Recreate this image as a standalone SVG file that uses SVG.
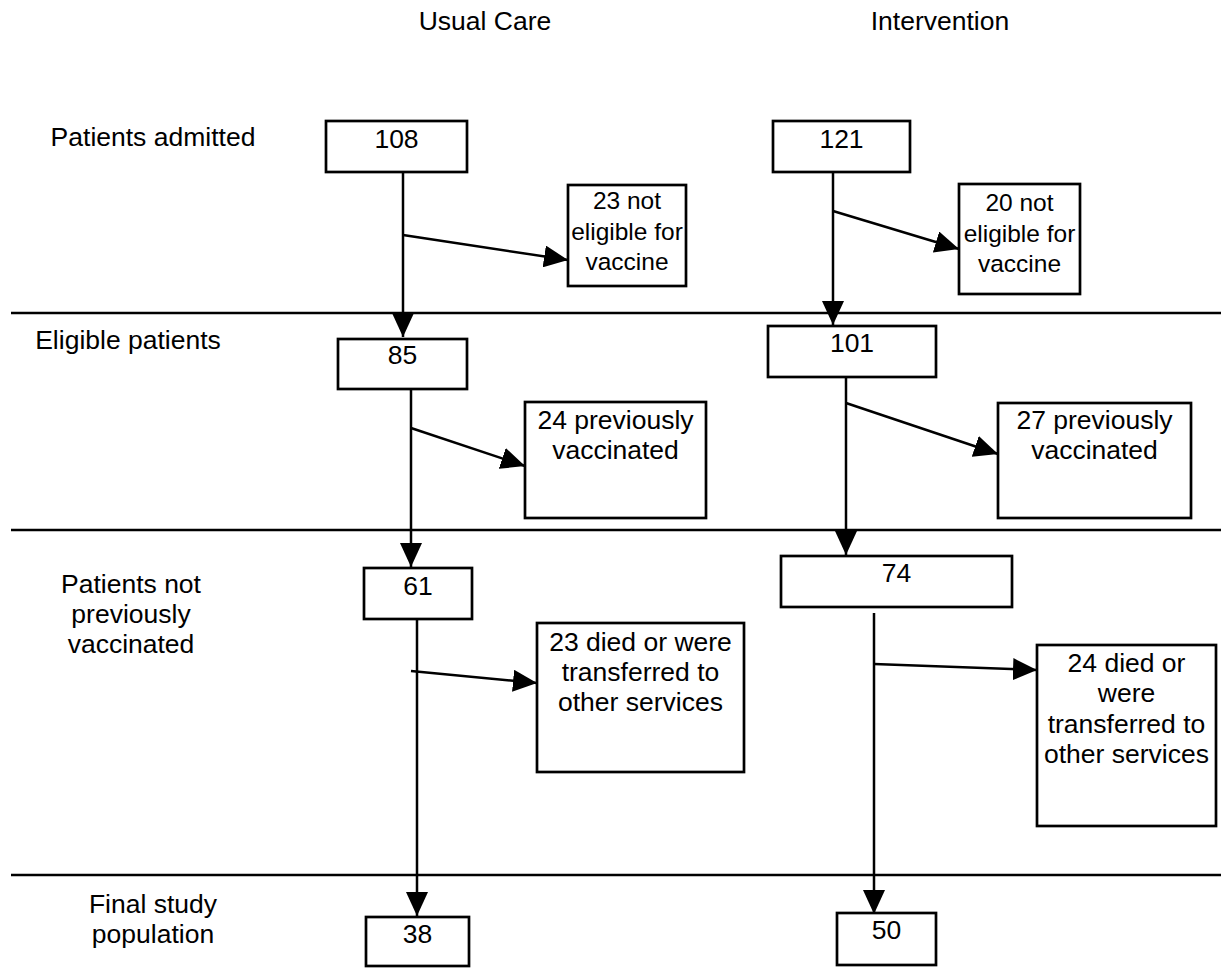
<svg xmlns="http://www.w3.org/2000/svg" width="1221" height="969" viewBox="0 0 1221 969">
<style>
  text { font-family: "Liberation Sans", Arial, sans-serif; font-size: 26.5px; fill: #000; text-anchor: middle; }
  .narrow { font-size: 24.5px; }
  .box { fill: #fff; stroke: #000; stroke-width: 2.7; }
  .line { stroke: #000; stroke-width: 2.5; fill: none; }
  .sep { stroke: #000; stroke-width: 2.5; }
</style>
<defs>
  <marker id="arr" markerUnits="userSpaceOnUse" markerWidth="24" markerHeight="22" refX="24" refY="11" orient="auto">
    <path d="M0,0 L24,11 L0,22 z" fill="#000"/>
  </marker>
</defs>
<rect width="1221" height="969" fill="#fff"/>

<g id="headers">
  <text x="485" y="30">Usual Care</text>
  <text x="940" y="30">Intervention</text>
</g>

<g id="stage-labels">
  <text x="153" y="146">Patients admitted</text>
  <text x="128" y="349">Eligible patients</text>
  <text x="131" y="593">Patients not</text>
  <text x="131" y="623">previously</text>
  <text x="131" y="653">vaccinated</text>
  <text x="153" y="913">Final study</text>
  <text x="153" y="943">population</text>
</g>

<g id="separators">
  <line class="sep" x1="11" y1="313" x2="1221" y2="313"/>
  <line class="sep" x1="11" y1="530" x2="1221" y2="530"/>
  <line class="sep" x1="11" y1="875" x2="1221" y2="875"/>
</g>

<g id="connectors">
  <line class="line" x1="403" y1="172" x2="403" y2="337" marker-end="url(#arr)"/>
  <line class="line" x1="403" y1="235" x2="568" y2="260" marker-end="url(#arr)"/>
  <line class="line" x1="411" y1="389" x2="411" y2="567" marker-end="url(#arr)"/>
  <line class="line" x1="411" y1="428" x2="525" y2="466" marker-end="url(#arr)"/>
  <line class="line" x1="417" y1="613" x2="417" y2="916" marker-end="url(#arr)"/>
  <line class="line" x1="411" y1="671" x2="537" y2="683" marker-end="url(#arr)"/>
  <line class="line" x1="833" y1="172" x2="833" y2="325" marker-end="url(#arr)"/>
  <line class="line" x1="833" y1="211" x2="959" y2="249" marker-end="url(#arr)"/>
  <line class="line" x1="846" y1="377" x2="846" y2="555" marker-end="url(#arr)"/>
  <line class="line" x1="846" y1="403" x2="998" y2="454" marker-end="url(#arr)"/>
  <line class="line" x1="874" y1="613" x2="874" y2="914" marker-end="url(#arr)"/>
  <line class="line" x1="874" y1="664" x2="1037" y2="670" marker-end="url(#arr)"/>
</g>

<g id="uc-admitted">
  <rect class="box" x="326" y="121" width="141" height="51"/>
  <text x="396.5" y="148">108</text>
</g>
<g id="uc-not-eligible">
  <rect class="box" x="568" y="185" width="118" height="101"/>
  <text class="narrow" x="627" y="209">23 not</text>
  <text class="narrow" x="627" y="240">eligible for</text>
  <text class="narrow" x="627" y="270">vaccine</text>
</g>
<g id="uc-eligible">
  <rect class="box" x="338" y="339" width="129" height="50"/>
  <text x="402.5" y="364">85</text>
</g>
<g id="uc-prev-vacc">
  <rect class="box" x="525" y="402" width="181" height="116"/>
  <text x="615.5" y="429">24 previously</text>
  <text x="615.5" y="459">vaccinated</text>
</g>
<g id="uc-not-prev">
  <rect class="box" x="364" y="568" width="108" height="51"/>
  <text x="418" y="595">61</text>
</g>
<g id="uc-died">
  <rect class="box" x="537" y="623" width="207" height="149"/>
  <text x="640.5" y="651">23 died or were</text>
  <text x="640.5" y="681">transferred to</text>
  <text x="640.5" y="711">other services</text>
</g>
<g id="uc-final">
  <rect class="box" x="366" y="917" width="103" height="49"/>
  <text x="417.5" y="943">38</text>
</g>

<g id="int-admitted">
  <rect class="box" x="773" y="121" width="137" height="51"/>
  <text x="841.5" y="148">121</text>
</g>
<g id="int-not-eligible">
  <rect class="box" x="959" y="184" width="121" height="110"/>
  <text class="narrow" x="1019.5" y="211">20 not</text>
  <text class="narrow" x="1019.5" y="242">eligible for</text>
  <text class="narrow" x="1019.5" y="272">vaccine</text>
</g>
<g id="int-eligible">
  <rect class="box" x="768" y="326" width="168" height="51"/>
  <text x="852" y="352">101</text>
</g>
<g id="int-prev-vacc">
  <rect class="box" x="998" y="403" width="193" height="115"/>
  <text x="1094.5" y="429">27 previously</text>
  <text x="1094.5" y="459">vaccinated</text>
</g>
<g id="int-not-prev">
  <rect class="box" x="781" y="556" width="231" height="51"/>
  <text x="896.5" y="582">74</text>
</g>
<g id="int-died">
  <rect class="box" x="1037" y="645" width="179" height="181"/>
  <text x="1126.5" y="672">24 died or</text>
  <text x="1126.5" y="702">were</text>
  <text x="1126.5" y="733">transferred to</text>
  <text x="1126.5" y="763">other services</text>
</g>
<g id="int-final">
  <rect class="box" x="837" y="913" width="99" height="52"/>
  <text x="886.5" y="939">50</text>
</g>
</svg>
